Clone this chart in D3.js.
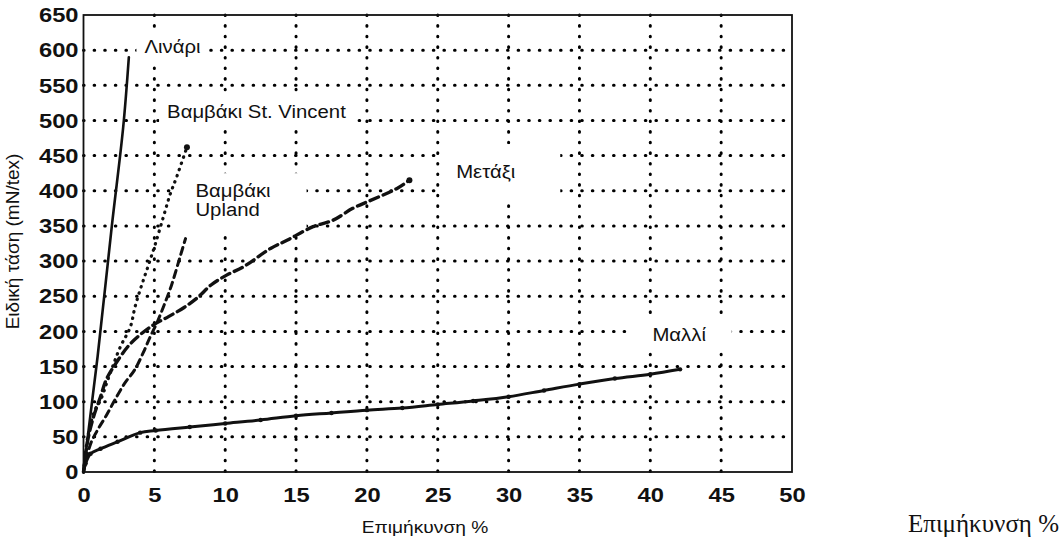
<!DOCTYPE html>
<html>
<head>
<meta charset="utf-8">
<script src="https://cdn.jsdelivr.net/npm/d3@7/dist/d3.min.js"></script>
<style>
  body { margin: 0; background: #fff; }
  text { font-family: "Liberation Sans", Arial, sans-serif; fill: #111; }
</style>
</head>
<body>
<div id="chart"></div>
<script>
// ticks
const xTicks = [0, 5, 10, 15, 20, 25, 30, 35, 40, 45, 50];
const yTicks = [0, 50, 100, 150, 200, 250, 300, 350, 400, 450, 500, 550, 600, 650];

// curves: [elongation %, specific stress mN/tex]
const flax = [[0, 0], [0.3, 50], [1, 165], [2, 350], [2.8, 490], [3.2, 590]];
const cottonStVincent = [[0, 0], [0.3, 50], [0.8, 88], [1.2, 102], [1.75, 133], [2.6, 178], [3.3, 206],
  [3.64, 235], [4.11, 266], [4.58, 294], [5.05, 323], [5.64, 363], [6.1, 394], [6.58, 420], [7.3, 462]];
const cottonUpland = [[0, 0], [0.5, 40], [1, 60], [1.6, 80], [2.2, 102], [2.9, 126], [3.6, 145], [4.2, 169],
  [4.7, 192], [5.2, 213], [5.7, 238], [6.2, 265], [6.8, 305], [7.2, 332]];
const silk = [[0, 0], [0.3, 45], [0.7, 78], [1.2, 107], [1.6, 131], [2.2, 152], [3.2, 180], [4.1, 197],
  [5, 210], [6, 221], [7.1, 234], [8.1, 249], [9, 266], [10.1, 280], [11.3, 292], [13.2, 318],
  [14.4, 330], [16.2, 349], [17.6, 358], [19, 375], [20, 384], [22.1, 403], [23, 415]];
const wool = [[0, 0], [0.15, 12], [0.5, 26], [1.2, 33], [2.4, 43], [4, 56], [5.1, 59], [7.5, 64], [10, 69],
  [12.5, 74], [15, 80], [17.5, 84], [20, 88], [22.5, 91], [25, 96], [27.5, 101], [30, 107], [32.5, 116],
  [35, 125], [37.5, 133], [40, 139], [42.1, 146]];

// curve labels: text lines + anchor in data units
const labels = [
  { lines: ["Λινάρι"], at: [4.3, 596], pad: [8, 8, 5, 5] },
  { lines: ["Βαμβάκι St. Vincent"], at: [5.9, 503], pad: [8, 8, 5, 5] },
  { lines: ["Βαμβάκι", "Upland"], at: [7.9, 391], pad: [24, 36, 8, 14] },
  { lines: ["Μετάξι"], at: [26.3, 418], pad: [15, 45, 18, 18] },
  { lines: ["Μαλλί"], at: [40.15, 187], pad: [25, 25, 8, 6] }
];

const W = 1062, H = 543;
const margin = { top: 15, right: 270, bottom: 71, left: 83.5 };
const width = W - margin.left - margin.right,
  height = H - margin.top - margin.bottom;
const stretch = 1.13; // the scan is a bit wider than tall

const svg = d3.select("#chart").append("svg")
  .attr("width", W).attr("height", H);

const g = svg.append("g")
  .attr("transform", "translate(" + margin.left + "," + margin.top + ")");

const x = d3.scaleLinear().domain([0, 50]).range([0, width]);
const y = d3.scaleLinear().domain([0, 650]).range([height, 0]);

// dotted grid
const grid = g.append("g").attr("class", "grid");
grid.selectAll(".vg")
  .data(xTicks.slice(1, -1)).enter().append("path")
  .attr("class", "vg")
  .attr("d", d => "M" + x(d) + ",0V" + height);
grid.selectAll(".hg")
  .data(yTicks.slice(1, -1)).enter().append("path")
  .attr("class", "hg")
  .attr("d", d => "M0," + y(d) + "H" + width);
grid.selectAll("path")
  .attr("fill", "none")
  .attr("stroke", "#000")
  .attr("stroke-width", 3)
  .attr("stroke-linecap", "round")
  .attr("stroke-dasharray", "0.6,10");

// labels with white boxes over the grid
const lab = g.append("g");
labels.forEach(function (l) {
  const grp = lab.append("g");
  const box = grp.append("rect").attr("fill", "#fff");
  const t = grp.append("text")
    .attr("transform", "translate(" + x(l.at[0]) + "," + y(l.at[1]) + ") scale(" + stretch + ",1)")
    .style("font-size", "18px");
  l.lines.forEach(function (s, i) {
    t.append("tspan").attr("x", 0).attr("dy", i == 0 ? 0 : 19).text(s);
  });
  const b = t.node().getBBox();
  box.attr("x", x(l.at[0]) + b.x * stretch - l.pad[0])
    .attr("y", y(l.at[1]) + b.y - l.pad[2])
    .attr("width", b.width * stretch + l.pad[0] + l.pad[1])
    .attr("height", b.height + l.pad[2] + l.pad[3]);
});

// curves
const line = d3.line()
  .x(d => x(d[0])).y(d => y(d[1]))
  .curve(d3.curveCatmullRom);

const series = [
  { data: flax, w: 2.6, dash: null },
  { data: cottonStVincent, w: 3.2, dash: "0.5,6" },
  { data: cottonUpland, w: 3, dash: "7,5" },
  { data: silk, w: 3.4, dash: "9,5" },
  { data: wool, w: 3, dash: null }
];

g.append("g").selectAll("path")
  .data(series).enter().append("path")
  .attr("d", d => line(d.data))
  .attr("fill", "none")
  .attr("stroke", "#111")
  .attr("stroke-width", d => d.w)
  .attr("stroke-linecap", "round")
  .attr("stroke-dasharray", d => d.dash);

// beads along wool and end dots
g.append("g").selectAll("circle")
  .data(wool.slice(1)).enter().append("circle")
  .attr("cx", d => x(d[0])).attr("cy", d => y(d[1]))
  .attr("r", 2.2).attr("fill", "#111");

g.append("g").selectAll("circle")
  .data([silk[silk.length - 1], cottonStVincent[cottonStVincent.length - 1]]).enter().append("circle")
  .attr("cx", d => x(d[0])).attr("cy", d => y(d[1]))
  .attr("r", 3).attr("fill", "#111");

// axes
const xAxis = g.append("g")
  .attr("transform", "translate(0," + height + ")")
  .call(d3.axisBottom(x).tickValues(xTicks).tickSize(0).tickPadding(15))
  .call(a => a.select(".domain").remove());

const yAxis = g.append("g")
  .call(d3.axisLeft(y).tickValues(yTicks).tickSize(0).tickPadding(5))
  .call(a => a.select(".domain").remove());

[xAxis, yAxis].forEach(function (a) {
  a.selectAll("text")
    .style("font-size", "21px").style("font-weight", "bold")
    .style("font-family", "'Liberation Sans', Arial, sans-serif")
    .attr("fill", "#111");
});
// widen the digits like the scan, keeping their anchor point
xAxis.selectAll(".tick text").attr("transform", "scale(" + stretch + ",1)");
yAxis.selectAll(".tick text").each(function () {
  const t = d3.select(this);
  const px = +t.attr("x");
  t.attr("transform", "translate(" + px + ",0) scale(" + stretch + ",1) translate(" + (-px) + ",0)");
});

// frame
g.append("rect")
  .attr("width", width).attr("height", height)
  .attr("fill", "none").attr("stroke", "#111").attr("stroke-width", 1.8);

// axis titles
g.append("text")
  .attr("transform", "translate(-65," + (height / 2 - 2) + ") rotate(-90)")
  .attr("text-anchor", "middle")
  .style("font-size", "19px")
  .text("Ειδική τάση (mN/tex)");

g.append("text")
  .attr("transform", "translate(" + x(24.1) + "," + (height + 61) + ") scale(" + stretch + ",1)")
  .attr("text-anchor", "middle")
  .style("font-size", "17px")
  .text("Επιμήκυνση %");

svg.append("text")
  .attr("x", 908).attr("y", 532)
  .style("font-family", "'Liberation Serif', 'Times New Roman', serif")
  .style("font-size", "25px")
  .text("Επιμήκυνση %");
</script>
</body>
</html>
